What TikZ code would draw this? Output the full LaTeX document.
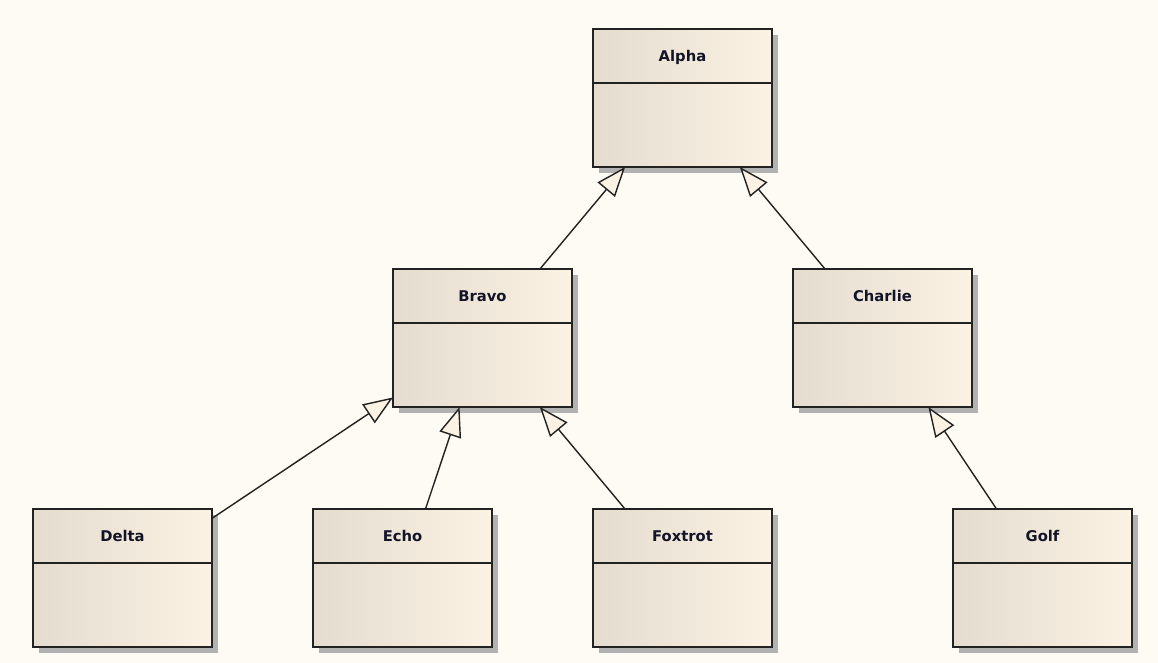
\documentclass[tikz,border=0pt]{standalone}
\usepackage{fontspec}
\setmainfont{DejaVu Sans}
\usepackage{tikz}
\usetikzlibrary{arrows.meta}
\usetikzlibrary{calc}
\usetikzlibrary{shadows}
\definecolor{bgcolor}{RGB}{253,251,243}
\definecolor{classleft}{RGB}{228,220,206}
\definecolor{classright}{RGB}{251,242,228}
\definecolor{shadowcolor}{RGB}{178,178,178}
\definecolor{linecolor}{RGB}{34,34,34}
\definecolor{namecolor}{RGB}{20,20,40}

\begin{document}
\begin{tikzpicture}[
    x=0.025cm, y=-0.025cm,
    classbox/.style={rectangle, draw=linecolor, line width=1.3pt, left color=classleft, right color=classright,
        minimum width=179*0.025cm, minimum height=138*0.025cm, inner sep=0pt, outer sep=0pt,
        drop shadow={shadow xshift=4.3pt, shadow yshift=-4.3pt, fill=shadowcolor, opacity=1}},
    classname/.style={font=\bfseries\fontsize{10.5}{12}\selectfont, text=namecolor, inner sep=0pt,
        text height=1.6ex, text depth=0.4ex},
    divider/.style={draw=linecolor, line width=1.3pt},
    generalization/.style={-{Triangle[length=21pt, width=16pt, fill=classright]}, draw=linecolor, line width=1pt}
]

\fill[bgcolor] (0,0) rectangle (1158,663);
\useasboundingbox (0,0) rectangle (1158,663);

% Classes
\foreach \n/\x/\y/\t in {alpha/682.5/98/Alpha, bravo/482.5/338/Bravo, charlie/882.5/338/Charlie,
    delta/122.5/578/Delta, echo/402.5/578/Echo, foxtrot/682.5/578/Foxtrot, golf/1042.5/578/Golf}{
  \node[classbox] (\n) at (\x,\y) {};
  \node[classname] (\n-name) at ($(\n.north)+(0,28)$) {\t};
  \draw[divider] ($(\n.north west)+(0,54)$) -- ($(\n.north east)+(0,54)$);
}

% Generalizations
\draw[generalization] (bravo) -- (alpha);
\draw[generalization] (charlie) -- (alpha);
\draw[generalization] (delta) -- (bravo);
\draw[generalization] (echo) -- (bravo);
\draw[generalization] (foxtrot) -- (bravo);
\draw[generalization] (golf) -- (charlie);

\end{tikzpicture}
\end{document}
